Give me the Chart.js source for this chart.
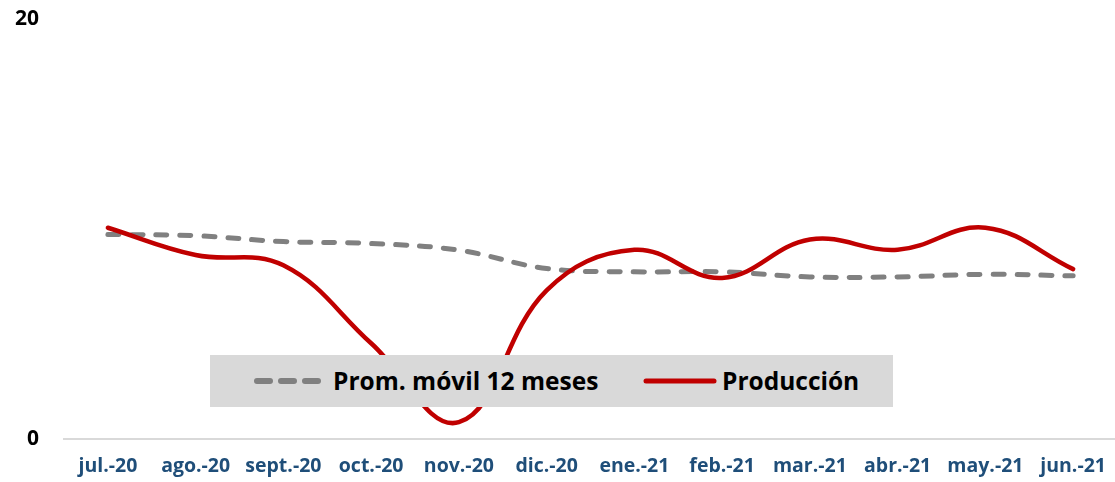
<!DOCTYPE html>
<html><head><meta charset="utf-8">
<script src="https://cdn.jsdelivr.net/npm/chart.js@4.4.1/dist/chart.umd.min.js"></script>
<style>
html,body{margin:0;padding:0;overflow:hidden;background:#fff;}
#wrap{position:relative;width:1122px;height:482px;}
#legend{position:absolute;left:210px;top:355px;width:683px;height:52px;background:#d9d9d9;font-family:"Open Sans",sans-serif;font-weight:bold;font-size:24.5px;color:#000;}
#legend .item{position:absolute;top:0;height:52px;line-height:52px;white-space:nowrap;}
#legend svg{position:absolute;top:21px;}
</style></head>
<body>
<div id="wrap"><canvas id="c" width="1122" height="482"></canvas>
<div id="legend"></div></div>
<script>
const categories = ["jul.-20","ago.-20","sept.-20","oct.-20","nov.-20","dic.-20","ene.-21","feb.-21","mar.-21","abr.-21","may.-21","jun.-21"];
const produccion = [10.06, 8.76, 8.27, 4.56, 0.8, 7.08, 9.01, 7.67, 9.5, 9.01, 10.06, 8.09];
const promMovil = [9.74, 9.68, 9.4, 9.31, 8.99, 8.12, 7.96, 7.96, 7.72, 7.72, 7.84, 7.77];
const seriesNames = ["Prom. móvil 12 meses", "Producción"];
const yTicks = [0, 20];

const lg = document.getElementById('legend');
lg.innerHTML =
 '<svg style="left:42px" width="72" height="10"><line x1="5" y1="5" x2="67" y2="5" stroke="#808080" stroke-width="6" stroke-linecap="round" stroke-dasharray="13 11"/></svg>' +
 '<div class="item" style="left:123px">' + seriesNames[0] + '</div>' +
 '<svg style="left:432px" width="76" height="10"><line x1="4" y1="5" x2="72" y2="5" stroke="#c00000" stroke-width="5" stroke-linecap="round"/></svg>' +
 '<div class="item" style="left:512px">' + seriesNames[1] + '</div>';

new Chart(document.getElementById('c'), {
  type: 'line',
  data: {
    labels: categories,
    datasets: [
      {label: seriesNames[1], data: produccion, borderColor: '#c00000', borderWidth: 4.5, tension: 0.4, pointRadius: 0, fill: false, order: 0, borderCapStyle: 'round'},
      {label: seriesNames[0], data: promMovil, borderColor: '#808080', borderWidth: 5, borderDash: [11, 13], borderCapStyle: 'round', tension: 0.4, pointRadius: 0, fill: false, order: 1}
    ]
  },
  options: {
    responsive: false,
    animation: false,
    layout: {padding: {top: 19, left: 0, right: 0, bottom: 0}},
    plugins: {legend: {display: false}, tooltip: {enabled: false}},
    scales: {
      x: {
        offset: true,
        grid: {display: false, drawTicks: false},
        border: {display: true, color: '#d9d9d9', width: 2},
        ticks: {color: '#1f4e79', font: {family: 'Open Sans', weight: 'bold', size: 19.5}, padding: 16, maxRotation: 0, autoSkip: false},
        afterFit: s => { s.height = 43; }
      },
      y: {
        min: 0, max: 20,
        afterBuildTicks: s => { s.ticks = yTicks.map(v => ({value: v})); },
        grid: {display: false, drawTicks: false},
        border: {display: false},
        ticks: {color: '#000', font: {family: 'Open Sans', weight: 'bold', size: 21}, padding: 25},
        afterFit: s => { s.width = 64; s.paddingTop = 0; s.paddingBottom = 0; }
      }
    }
  }
});
</script>
</body></html>
